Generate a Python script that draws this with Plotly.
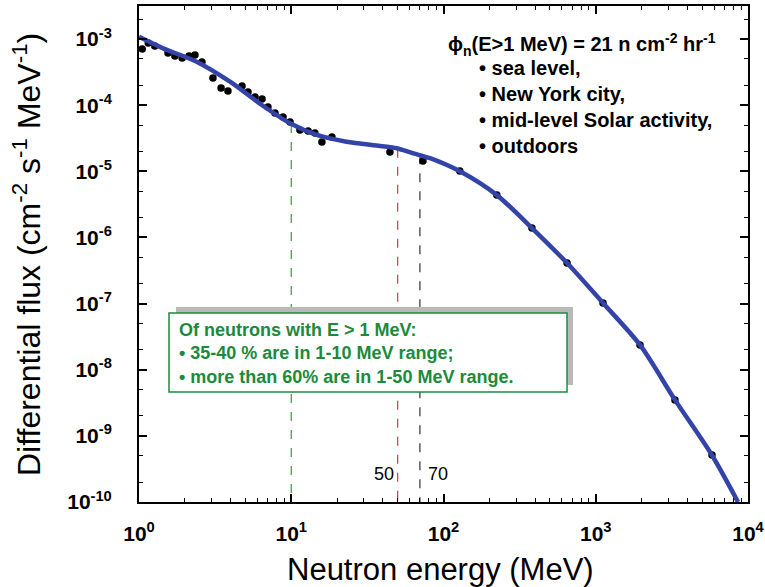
import math
import plotly.graph_objects as go

# ---------------- data ----------------
curve_energy = [1.0, 1.44, 2.39, 3.96, 6.55, 9.82, 14.7, 23.1, 38.3, 49.3, 63.4, 81.5,
                128, 224, 381, 648, 1116, 1953, 3313, 5800, 8600]
curve_flux = [1.08e-3, 7.24e-4, 4.55e-4, 2.27e-4, 9.72e-5, 5.32e-5, 3.55e-5, 2.81e-5,
              2.42e-5, 2.23e-5, 1.87e-5, 1.58e-5, 1.0e-5, 4.37e-6, 1.39e-6, 4.1e-7,
              1.02e-7, 2.37e-8, 3.5e-9, 5.1e-10, 1.0e-10]

meas_energy = [1.05, 1.15, 1.27, 1.55, 1.72, 1.92, 2.13, 2.33, 2.59, 3.06, 3.46, 3.84,
               4.75, 5.20, 5.78, 6.43, 7.03, 7.82, 8.83, 9.82, 11.4, 12.9, 14.3, 15.9,
               18.5, 44.5, 73.3, 128, 224, 381, 648, 1116, 1953, 3313, 5800]
meas_flux = [7.08e-4, 8.73e-4, 7.85e-4, 6.15e-4, 5.54e-4, 5.17e-4, 5.54e-4, 5.74e-4,
             4.50e-4, 2.58e-4, 1.82e-4, 1.64e-4, 1.95e-4, 1.58e-4, 1.33e-4, 1.24e-4,
             9.40e-5, 7.62e-5, 6.64e-5, 5.57e-5, 4.22e-5, 4.07e-5, 3.80e-5, 2.78e-5,
             3.30e-5, 1.96e-5, 1.43e-5, 1.01e-5, 4.39e-6, 1.39e-6, 4.11e-7, 1.02e-7,
             2.37e-8, 3.49e-9, 5.14e-10]

marker_energy = [10, 50, 70]
marker_top = [5.2e-5, 2.2e-5, 1.75e-5]
marker_bottom = 1e-10
marker_labels = ["50", "70"]

x_tickvals = [1, 10, 100, 1000, 10000]
x_ticktext = ["10<sup>0</sup>", "10<sup>1</sup>", "10<sup>2</sup>", "10<sup>3</sup>", "10<sup>4</sup>"]
y_tickvals = [1e-10, 1e-9, 1e-8, 1e-7, 1e-6, 1e-5, 1e-4, 1e-3]
y_ticktext = ["10<sup>-10</sup>", "10<sup>-9</sup>", "10<sup>-8</sup>", "10<sup>-7</sup>",
              "10<sup>-6</sup>", "10<sup>-5</sup>", "10<sup>-4</sup>", "10<sup>-3</sup>"]

header_text = "ϕ<sub>n</sub>(E>1 MeV) = 21 n cm<sup>-2</sup> hr<sup>-1</sup>"
bullet_lines = ["• sea level,", "• New York city,", "• mid-level Solar activity,", "• outdoors"]
box_lines = ["Of neutrons with E > 1 MeV:", "• 35-40 % are in 1-10 MeV range;",
             "• more than 60% are in 1-50 MeV range."]
x_title = "Neutron energy (MeV)"
y_title = "Differential flux (cm<sup>-2</sup> s<sup>-1</sup> MeV<sup>-1</sup>)"

# ---------------- figure ----------------
W, H = 765, 587
L, R, T, B = 139, 17, 6, 85
PW, PH = W - L - R, H - T - B

def px2paper(px, py):
    return (px - L) / PW, (H - B - py) / PH

FONT = "Arial, Liberation Sans, sans-serif"
GREEN = "#1b8a3a"
line_colors = ["#2e9e3e", "#e03050", "#333333"]

fig = go.Figure()

for e, top, c in zip(marker_energy, marker_top, line_colors):
    fig.add_trace(go.Scatter(x=[e, e], y=[top, marker_bottom], mode="lines",
                             line=dict(color=c, width=1.2, dash="dash"),
                             showlegend=False, hoverinfo="skip"))

fig.add_trace(go.Scatter(x=meas_energy, y=meas_flux, mode="markers",
                         marker=dict(color="black", size=7.5),
                         showlegend=False))
fig.add_trace(go.Scatter(x=curve_energy, y=curve_flux, mode="lines",
                         line=dict(color="#3343a8", width=4.5, shape="spline", smoothing=0.8),
                         showlegend=False))

axis_common = dict(showline=True, linecolor="black", linewidth=2, mirror="ticks",
                   ticks="inside", ticklen=8, tickwidth=1.5, tickcolor="black",
                   showgrid=False, zeroline=False, automargin=False,
                   tickfont=dict(family=FONT, size=21, color="black", weight="bold"))

fig.update_xaxes(type="log", range=[0, 4], tickmode="array", tickvals=x_tickvals,
                 ticktext=x_ticktext, ticklabelstandoff=12,
                 minor=dict(ticks="inside", ticklen=4, tickwidth=1, tickcolor="black", dtick="D1"),
                 **axis_common)
fig.update_yaxes(type="log", range=[-10, -2.5], tickmode="array", tickvals=y_tickvals,
                 ticktext=y_ticktext, ticklabelstandoff=21,
                 minor=dict(ticks="inside", ticklen=4, tickwidth=1, tickcolor="black", dtick="D2"),
                 **axis_common)

# green box with shadow
sx0, sy0 = px2paper(176, 307)
sx1, sy1 = px2paper(573, 385)
bx0, by0 = px2paper(169, 313)
bx1, by1 = px2paper(567, 392)
fig.add_shape(type="rect", xref="paper", yref="paper", x0=sx0, y0=sy1, x1=sx1, y1=sy0,
              fillcolor="#b9b9b9", line=dict(width=0), layer="above")
fig.add_shape(type="rect", xref="paper", yref="paper", x0=bx0, y0=by1, x1=bx1, y1=by0,
              fillcolor="white", line=dict(color=GREEN, width=1.5), layer="above")

tx, ty = px2paper(177, 353)
fig.add_annotation(xref="paper", yref="paper", x=tx, y=ty, xanchor="left", yanchor="middle",
                   align="left", showarrow=False, text="<br>".join(box_lines),
                   font=dict(family=FONT, size=18, color=GREEN, weight="bold"))

hx, hy = px2paper(446, 44)
fig.add_annotation(xref="paper", yref="paper", x=hx, y=hy, xanchor="left", yanchor="middle",
                   showarrow=False, text=header_text,
                   font=dict(family=FONT, size=20, color="black", weight="bold"))
bx, by = px2paper(477, 107)
fig.add_annotation(xref="paper", yref="paper", x=bx, y=by, xanchor="left", yanchor="middle",
                   align="left", showarrow=False, text="<br>".join(bullet_lines),
                   font=dict(family=FONT, size=20, color="black", weight="bold"))

_, ly50 = px2paper(0, 474)
fig.add_annotation(xref="x", yref="paper", x=math.log10(marker_energy[1]), y=ly50,
                   xanchor="right", yanchor="middle", xshift=-2, showarrow=False,
                   text=marker_labels[0], font=dict(family=FONT, size=18, color="black"))
fig.add_annotation(xref="x", yref="paper", x=math.log10(marker_energy[2]), y=ly50,
                   xanchor="left", yanchor="middle", xshift=6, showarrow=False,
                   text=marker_labels[1], font=dict(family=FONT, size=18, color="black"))

# axis titles
xtx, xty = px2paper(440, 569)
fig.add_annotation(xref="paper", yref="paper", x=xtx, y=xty, xanchor="center", yanchor="middle",
                   showarrow=False, text=x_title,
                   font=dict(family=FONT, size=31, color="black"))
ytx, yty = px2paper(27, 255)
fig.add_annotation(xref="paper", yref="paper", x=ytx, y=yty, xanchor="center", yanchor="middle",
                   showarrow=False, text=y_title, textangle=-90,
                   font=dict(family=FONT, size=32, color="black"))

fig.update_layout(width=W, height=H, margin=dict(l=L, r=R, t=T, b=B),
                  paper_bgcolor="white", plot_bgcolor="white", showlegend=False)

fig.write_html("out.html", config={"displayModeBar": False},
               post_script="document.body.style.margin='0px';")
